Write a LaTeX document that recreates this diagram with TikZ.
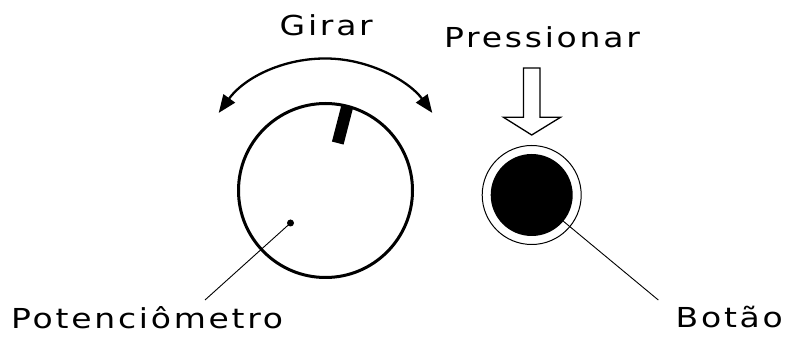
\documentclass[tikz,border=0pt]{standalone}
\usepackage{fontspec}
\setmainfont{DejaVu Sans}[LetterSpace=10, FakeStretch=1.2]
\usetikzlibrary{arrows.meta}
\begin{document}
\begin{tikzpicture}[x=1pt,y=1pt,
  lbl/.style={inner sep=0pt, anchor=base west, font=\fontsize{27.5}{30}\selectfont},
  leader/.style={line width=0.9pt}]
\useasboundingbox (0,0) rectangle (790,-347);
% potentiometer
\node[circle, draw, line width=3pt, minimum size=174pt, inner sep=0pt] (pot) at (325.5,-190.5) {};
\draw[line width=12pt] ([shift={(75.5:49)}]pot.center) -- ([shift={(75.5:86.5)}]pot.center);
\node[circle, fill, minimum size=7pt, inner sep=0pt] (wiper) at (290.5,-223) {};
\coordinate (potend) at (205,-300);
\draw[leader] (wiper.center) -- (potend);
% rotation arrow
\draw[line width=2.3pt, {Triangle[length=18pt,width=14pt]}-{Triangle[length=18pt,width=14pt]}]
  ([shift={(144:132)}]pot.center) arc[start angle=144, end angle=36, radius=132];
% push arrow
\draw[line width=1.3pt, line join=miter] (523.5,-68) -- (540,-68) -- (540,-117.3) -- (560.5,-117.3)
  -- (531.7,-135) -- (503.5,-117.3) -- (523.5,-117.3) -- cycle;
% button
\node[circle, draw, line width=1pt, minimum size=99pt, inner sep=0pt] (ring) at (531.7,-195) {};
\node[circle, fill, minimum size=82pt, inner sep=0pt] (btn) at (531.7,-195) {};
\coordinate (btnend) at (658.3,-300);
\draw[leader] (btn.center) -- (btnend);
% labels
\node[lbl] (girar) at (279.5,-36) {Girar};
\node[lbl] (press) at (444,-47.5) {Pressionar};
\node[lbl] (potlbl) at (11,-328.3) {Potenciômetro};
\node[lbl] (btnlbl) at (675.5,-327.7) {Botão};
\end{tikzpicture}
\end{document}
